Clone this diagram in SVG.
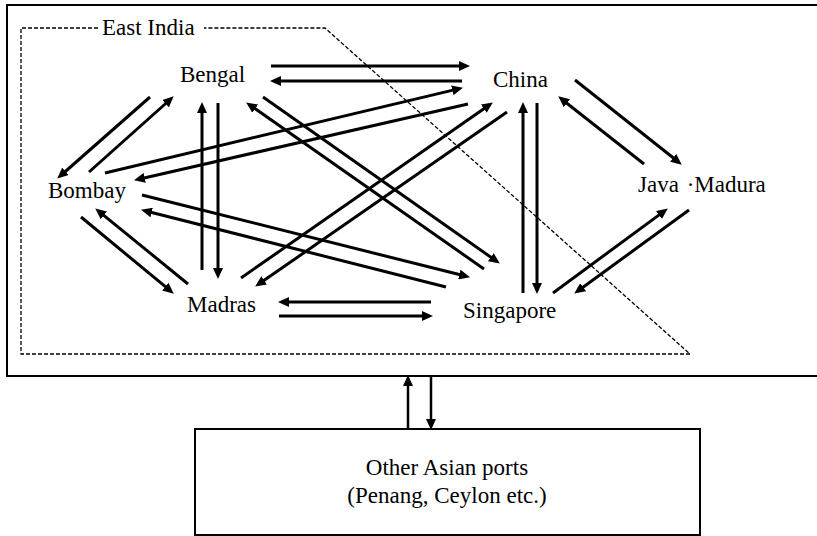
<svg xmlns="http://www.w3.org/2000/svg" width="817" height="536" viewBox="0 0 817 536">
<style>
.t{font-family:'Liberation Serif','Times New Roman',serif;font-size:23px;fill:#000}
.a{stroke:#000;stroke-width:3;fill:none;marker-end:url(#ah)}
.b{stroke:#000;stroke-width:2.5;fill:none;marker-end:url(#ah)}
.box{fill:#fff;stroke:#000;stroke-width:2}
.dash{fill:none;stroke:#000;stroke-width:1.3;stroke-dasharray:4 2}
</style>
<defs>
<marker id="ah" markerUnits="userSpaceOnUse" markerWidth="11" markerHeight="10" viewBox="0 0 11 10" refX="4" refY="5" orient="auto">
<path d="M0,0 L11,5 L0,10 z" fill="#000"/>
</marker>
</defs>
<rect width="817" height="536" fill="#fff"/>
<g id="region">
<rect class="box" x="7" y="5" width="830" height="371"/>
</g>
<g id="east-india">
<path class="dash" d="M98,28 H21 V354 H690 L325,28 H204"/>
<text class="t" x="102" y="35">East India</text>
</g>
<g id="bengal"><text class="t" x="180" y="82">Bengal</text></g>
<g id="china"><text class="t" x="493" y="87">China</text></g>
<g id="java-madura"><text class="t" x="638" y="192">Java<tspan dx="2"> ·</tspan><tspan dx="0">Madura</tspan></text></g>
<g id="bombay"><text class="t" x="48" y="198">Bombay</text></g>
<g id="madras"><text class="t" x="187" y="312">Madras</text></g>
<g id="singapore"><text class="t" x="463" y="318">Singapore</text></g>
<g id="other-ports">
<rect class="box" x="195" y="429" width="505" height="106" stroke-width="1.5"/>
<text class="t" x="447" y="475" text-anchor="middle">Other Asian ports</text>
<text class="t" x="447" y="503" text-anchor="middle">(Penang, Ceylon etc.)</text>
</g>
<g id="connectors">
<path class="a" d="M271,66 L463,66"/>
<path class="a" d="M462,81 L277,81"/>
<path class="a" d="M105,173 L456.2,89.4"/>
<path class="a" d="M468,104 L140.8,178.7"/>
<path class="a" d="M150,97 L62.5,174"/>
<path class="a" d="M89,172 L168.5,101"/>
<path class="a" d="M202,270 L202,109"/>
<path class="a" d="M218,103 L218,272"/>
<path class="a" d="M263,97 L494.1,259.5"/>
<path class="a" d="M484,269 L251.9,106.4"/>
<path class="a" d="M142,195 L463.2,275.5"/>
<path class="a" d="M446,287 L147.8,211.5"/>
<path class="a" d="M81,217 L168.4,289.2"/>
<path class="a" d="M188,284 L100.7,212.8"/>
<path class="a" d="M241,278 L487.1,106.4"/>
<path class="a" d="M507,112 L260.9,282.6"/>
<path class="a" d="M431,302 L285,302"/>
<path class="a" d="M279,316 L426,316"/>
<path class="a" d="M523,293 L523,109"/>
<path class="a" d="M537,103 L537,287"/>
<path class="a" d="M575,80 L676.3,160.3"/>
<path class="a" d="M644,164 L563.7,100.7"/>
<path class="a" d="M553,293 L662.2,212.6"/>
<path class="a" d="M689,210 L579.9,289.5"/>
<path class="b" d="M408,429 L408,382"/>
<path class="b" d="M431,376 L431,423"/>
</g>
</svg>
